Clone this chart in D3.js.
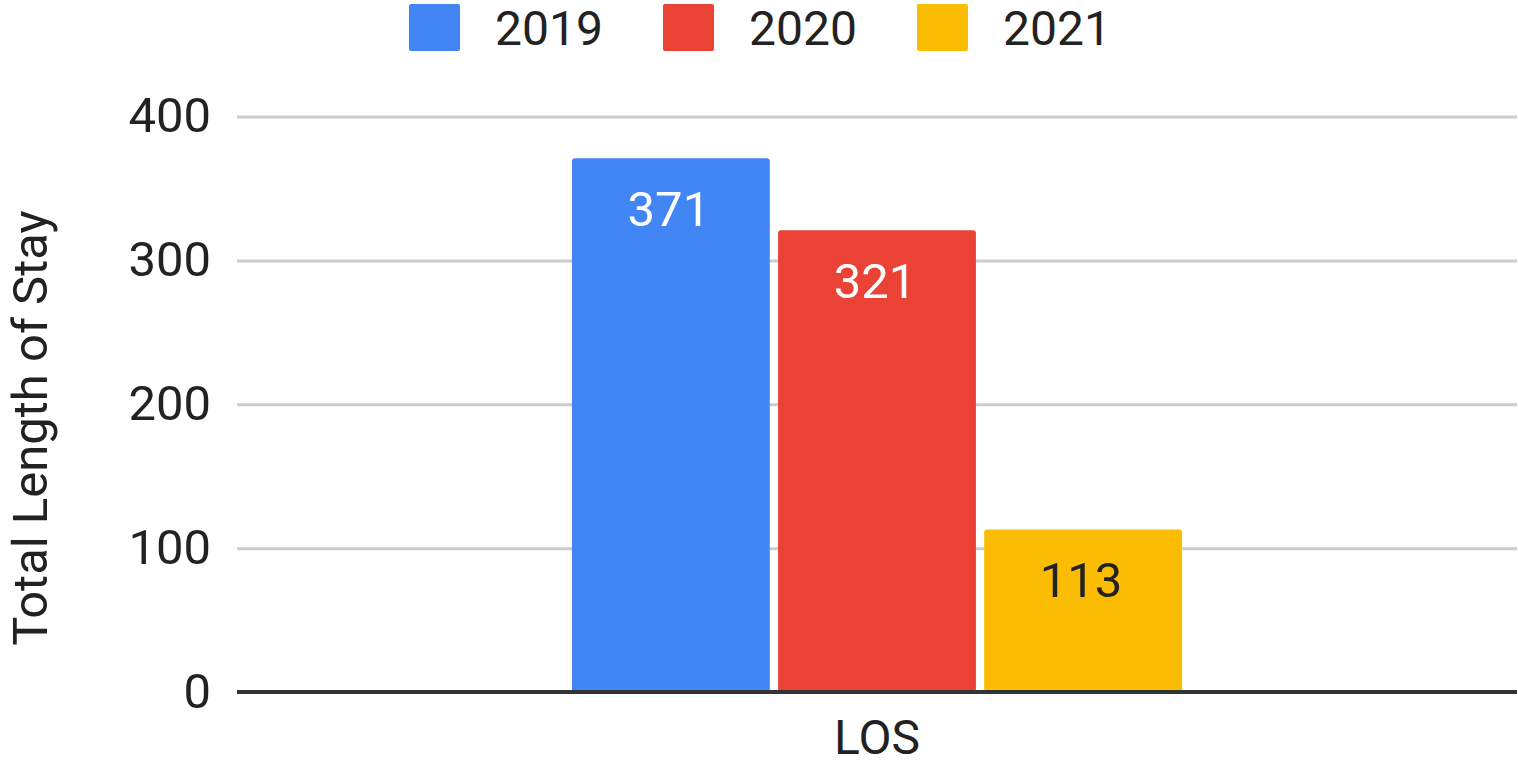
<!DOCTYPE html>
<html>
<head>
<meta charset="utf-8">
<script src="https://cdn.jsdelivr.net/npm/d3@7"></script>
<style>
  body { margin: 0; background: #fff; }
  svg { display: block; font-family: Roboto, "Noto Sans", sans-serif; }
</style>
</head>
<body>
<svg></svg>
<script>
const categories = ["LOS"];
const seriesNames = ["2019", "2020", "2021"];
const seriesValues = [371, 321, 113];
const seriesColours = ["#4285f4", "#ea4335", "#fbbc04"];
const labelColours = ["#ffffff", "#ffffff", "#222222"];
const yTicks = [0, 100, 200, 300, 400];

const width = 1518;
const height = 761;
const plotLeft = 237, plotRight = 1517, plotTop = 116.5, plotBottom = 692;

const svg = d3.select("svg")
  .attr("width", width)
  .attr("height", height);

const y = d3.scaleLinear().domain([0, 400]).range([plotBottom, plotTop]);

const x0 = d3.scaleBand()
  .domain(categories)
  .range([plotLeft, plotRight])
  .paddingInner(0)
  .paddingOuter(0.549);

const x1 = d3.scaleBand()
  .domain(seriesNames)
  .range([0, x0.bandwidth()])
  .paddingInner(0.04)
  .paddingOuter(0);

// gridlines + tick labels
const yAxis = svg.append("g")
  .attr("transform", `translate(${plotLeft},0)`)
  .call(d3.axisLeft(y).tickValues(yTicks).tickSize(-(plotRight - plotLeft)).tickPadding(26))
  .call(g => g.select(".domain").remove());

yAxis.selectAll(".tick line")
  .attr("stroke", "#cccccc")
  .attr("stroke-width", 3);

yAxis.selectAll(".tick text")
  .attr("dy", "15")
  .attr("fill", "#222")
  .style("font-size", "49px")
  .style("font-family", "Roboto, sans-serif");

yAxis.selectAll(".tick").filter(d => d === 0).select("line").remove();

// bars
const data = seriesNames.map((name, i) => ({ cat: "LOS", name, value: seriesValues[i], i }));

const group = svg.append("g")
  .attr("transform", `translate(${x0("LOS")},0)`);

group.selectAll("rect")
  .data(data)
  .enter().append("rect")
  .attr("x", d => x1(d.name))
  .attr("y", d => y(d.value))
  .attr("width", x1.bandwidth())
  .attr("height", d => y(0) - y(d.value))
  .attr("rx", 3)
  .attr("fill", d => seriesColours[d.i]);

group.selectAll("text.value")
  .data(data)
  .enter().append("text")
  .attr("class", "value")
  .attr("x", d => x1(d.name) + x1.bandwidth() / 2 - 2)
  .attr("y", d => y(d.value) + 68)
  .attr("text-anchor", "middle")
  .attr("fill", d => labelColours[d.i])
  .style("font-size", "49px")
  .text(d => d.value);

// baseline
svg.append("line")
  .attr("x1", plotLeft)
  .attr("x2", plotRight)
  .attr("y1", y(0))
  .attr("y2", y(0))
  .attr("stroke", "#333")
  .attr("stroke-width", 4);

// x axis label
svg.append("text")
  .attr("x", x0("LOS") + x0.bandwidth() / 2)
  .attr("y", 754)
  .attr("text-anchor", "middle")
  .attr("fill", "#222")
  .style("font-size", "48px")
  .text("LOS");

// y axis title
svg.append("text")
  .attr("transform", "translate(47,428) rotate(-90)")
  .attr("text-anchor", "middle")
  .attr("fill", "#222")
  .style("font-size", "49px")
  .text("Total Length of Stay");

// legend
const legend = svg.append("g").selectAll("g")
  .data(seriesNames)
  .enter().append("g")
  .attr("transform", (d, i) => `translate(${409 + i * 254},0)`);

legend.append("rect")
  .attr("x", 0)
  .attr("y", 4)
  .attr("width", 51)
  .attr("height", 47)
  .attr("rx", 2)
  .attr("fill", (d, i) => seriesColours[i]);

legend.append("text")
  .attr("x", 86)
  .attr("y", 45)
  .attr("fill", "#222")
  .style("font-size", "48px")
  .text(d => d);
</script>
</body>
</html>
